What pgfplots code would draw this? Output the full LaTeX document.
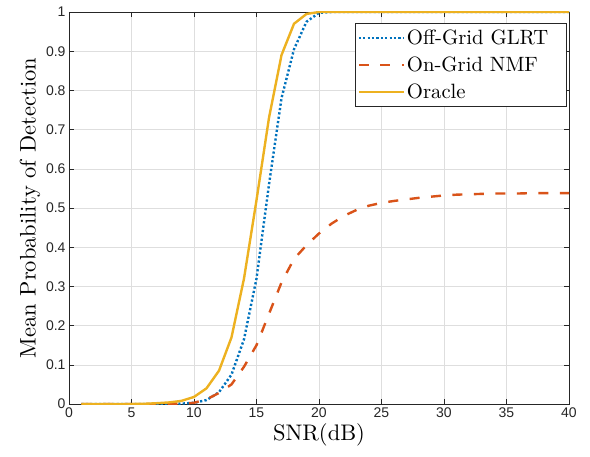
\documentclass[border=0pt]{standalone}
\usepackage{fontspec}
\setmainfont{lmroman10-regular.otf}
\usepackage{pgfplots}
\pgfplotsset{compat=1.18}
\newfontfamily\arial{Liberation Sans}

\definecolor{mblue}{rgb}{0,0.447,0.741}
\definecolor{mred}{rgb}{0.85,0.325,0.098}
\definecolor{myellow}{rgb}{0.929,0.694,0.125}
\definecolor{axgray}{rgb}{0.15,0.15,0.15}

\begin{document}
\begin{tikzpicture}[x=1pt,y=1pt]
\begin{axis}[
  name=main,
  scale only axis,
  width=500pt, height=392pt,
  xmin=0, xmax=40, ymin=0, ymax=1,
  xtick={0,5,...,40},
  ytick={0,0.1,...,1},
  yticklabels={0,0.1,0.2,0.3,0.4,0.5,0.6,0.7,0.8,0.9,1},
  tick align=inside,
  major tick length=5pt,
  axis line style={axgray, line width=0.6pt},
  tick style={axgray, line width=0.6pt},
  grid=major,
  grid style={black!13, line width=0.6pt},
  /pgf/number format/assume math mode=true,
  ticklabel style={font=\arial\fontsize{14}{16}\selectfont, text=axgray},
  xlabel={SNR(dB)},
  ylabel={Mean Probability of Detection},
  label style={font=\fontsize{22.5}{26}\selectfont},
  xlabel style={yshift=1pt},
  ylabel style={yshift=-1pt},
  legend style={font=\fontsize{20.7}{24}\selectfont, at={(0.995,0.972)}, anchor=north east,
    draw=axgray, line width=0.6pt, inner xsep=2pt, inner ysep=4.5pt, row sep=7pt},
  legend cell align=left,
  legend image code/.code={\draw[#1] (0pt,0pt) -- (45pt,0pt);},
]
\addplot[mblue, line width=2.4pt, dash pattern=on 2.2pt off 2.2pt] coordinates {
(1,0) (2,0) (3,0) (4,0) (5,0) (6,0) (7,0) (8,0.0005) (9,0.001) (10,0.003)
(11,0.01) (12,0.03) (13,0.075) (14,0.165) (15,0.32) (16,0.56) (17,0.78) (18,0.905)
(19,0.975) (20,0.998) (21,1) (22,1) (23,1) (24,1) (25,1) (26,1) (27,1) (28,1) (29,1) (30,1)
(31,1) (32,1) (33,1) (34,1) (35,1) (36,1) (37,1) (38,1) (39,1) (40,1)
};
\addlegendentry{Off-Grid GLRT\rule{14pt}{0pt}}
\addplot[mred, line width=2.4pt, dash pattern=on 10pt off 11.5pt] coordinates {
(1,0) (2,0) (3,0) (4,0) (5,0) (6,0) (7,0) (8,0.0005) (9,0.001) (10,0.003)
(11,0.012) (12,0.028) (13,0.05) (14,0.095) (15,0.15) (16,0.23) (17,0.31) (18,0.37)
(19,0.405) (20,0.435) (21,0.46) (22,0.48) (23,0.495) (24,0.506) (25,0.513) (26,0.518)
(27,0.522) (28,0.526) (29,0.529) (30,0.532) (31,0.534) (32,0.535) (33,0.536) (34,0.537)
(35,0.537) (36,0.537) (37,0.538) (38,0.538) (39,0.538) (40,0.538)
};
\addlegendentry{On-Grid NMF}
\addplot[myellow, line width=2.4pt] coordinates {
(1,0) (2,0) (3,0) (4,0) (5,0) (6,0.0005) (7,0.002) (8,0.004) (9,0.008) (10,0.018)
(11,0.04) (12,0.085) (13,0.17) (14,0.32) (15,0.52) (16,0.73) (17,0.89) (18,0.97)
(19,0.995) (20,1) (21,1) (22,1) (23,1) (24,1) (25,1) (26,1) (27,1) (28,1) (29,1) (30,1)
(31,1) (32,1) (33,1) (34,1) (35,1) (36,1) (37,1) (38,1) (39,1) (40,1)
};
\addlegendentry{Oracle}
\end{axis}
\path (main.south west) ++(-69pt,-52pt) coordinate (bbsw);
\path (main.north east) ++(21pt,12pt) coordinate (bbne);
\pgfresetboundingbox
\path[use as bounding box] (bbsw) rectangle (bbne);
\end{tikzpicture}
\end{document}
